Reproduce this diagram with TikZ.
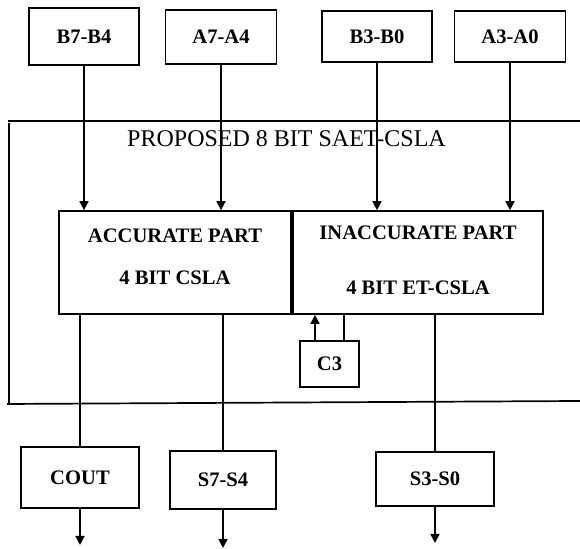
\documentclass[tikz,border=0pt]{standalone}
\usepackage{fontspec}
\setmainfont{Liberation Serif}
\usetikzlibrary{arrows.meta}
\begin{document}
\begin{tikzpicture}[x=.5pt,y=-.5pt,
	blk/.style={draw,line width=.85pt,inner sep=0pt,align=center,font=\bfseries\fontsize{10.3}{12}\selectfont},
	txt/.style={inner sep=0pt,align=center,font=\bfseries\fontsize{10.3}{12}\selectfont},
	wire/.style={line width=.85pt},
	arr/.style={line width=.85pt,-{Triangle[length=4.5pt,width=4.5pt]}}]
	\useasboundingbox (0,0) rectangle (580,549);

	\node[font=\fontsize{12}{14}\selectfont] (title) at (286.5,139) {PROPOSED 8 BIT SAET-CSLA};
	\draw[wire] (580,121) -- (8,121);
	\draw[wire] (9,123) -- (9,404);
	\draw[wire] (7,404) -- (580,401);

	\node[blk,minimum width=55pt,minimum height=28.5pt] (b74) at (84,36.5) {B7-B4};
	\node[blk,minimum width=55.5pt,minimum height=27pt] (a74) at (221,37) {A7-A4};
	\node[blk,minimum width=55pt,minimum height=25.5pt] (b30) at (377,36.5) {B3-B0};
	\node[blk,minimum width=55.5pt,minimum height=25.5pt] (a30) at (510,36.5) {A3-A0};

	\node[blk,minimum width=116pt,minimum height=51.5pt] (acc) at (175,262.5) {};
	\node[txt] (acctxt) at ([yshift=3pt]acc.center) {ACCURATE PART\\[9pt]4 BIT CSLA};
	\node[blk,minimum width=125pt,minimum height=51.5pt] (inacc) at (418,262.5) {};
	\node[txt] (inacctxt) at ([yshift=1.2pt]inacc.center) {INACCURATE PART\\[15.5pt]4 BIT ET-CSLA};
	\node[blk,minimum width=29.5pt,minimum height=23pt] (c3) at (329.5,364) {C3};

	\node[blk,minimum width=59pt,minimum height=30.5pt] (cout) at (80,477.5) {COUT};
	\node[blk,minimum width=53pt,minimum height=29pt] (s74) at (223,480) {S7-S4};
	\node[blk,minimum width=59pt,minimum height=27pt] (s30) at (435,479) {S3-S0};
	\coordinate (coutend) at (80,545);
	\coordinate (s74end) at (223,548);
	\coordinate (s30end) at (435,543);

	\draw[arr] (b74) -- (b74 |- acc.north);
	\draw[arr] (a74) -- (a74 |- acc.north);
	\draw[arr] (b30) -- (b30 |- inacc.north);
	\draw[arr] (a30) -- (a30 |- inacc.north);

	\draw[arr] ([xshift=-7.25pt]c3.north) -- ([xshift=-7.25pt]c3.north |- inacc.south);
	\draw[wire] ([xshift=7.25pt]c3.north |- inacc.south) -- ([xshift=7.25pt]c3.north);

	\draw[wire] (cout.north |- acc.south) -- (cout);
	\draw[wire] (s74.north |- acc.south) -- (s74);
	\draw[wire] (s30.north |- inacc.south) -- (s30);
	\draw[arr] (cout) -- (coutend);
	\draw[arr] (s74) -- (s74end);
	\draw[arr] (s30) -- (s30end);
\end{tikzpicture}
\end{document}
